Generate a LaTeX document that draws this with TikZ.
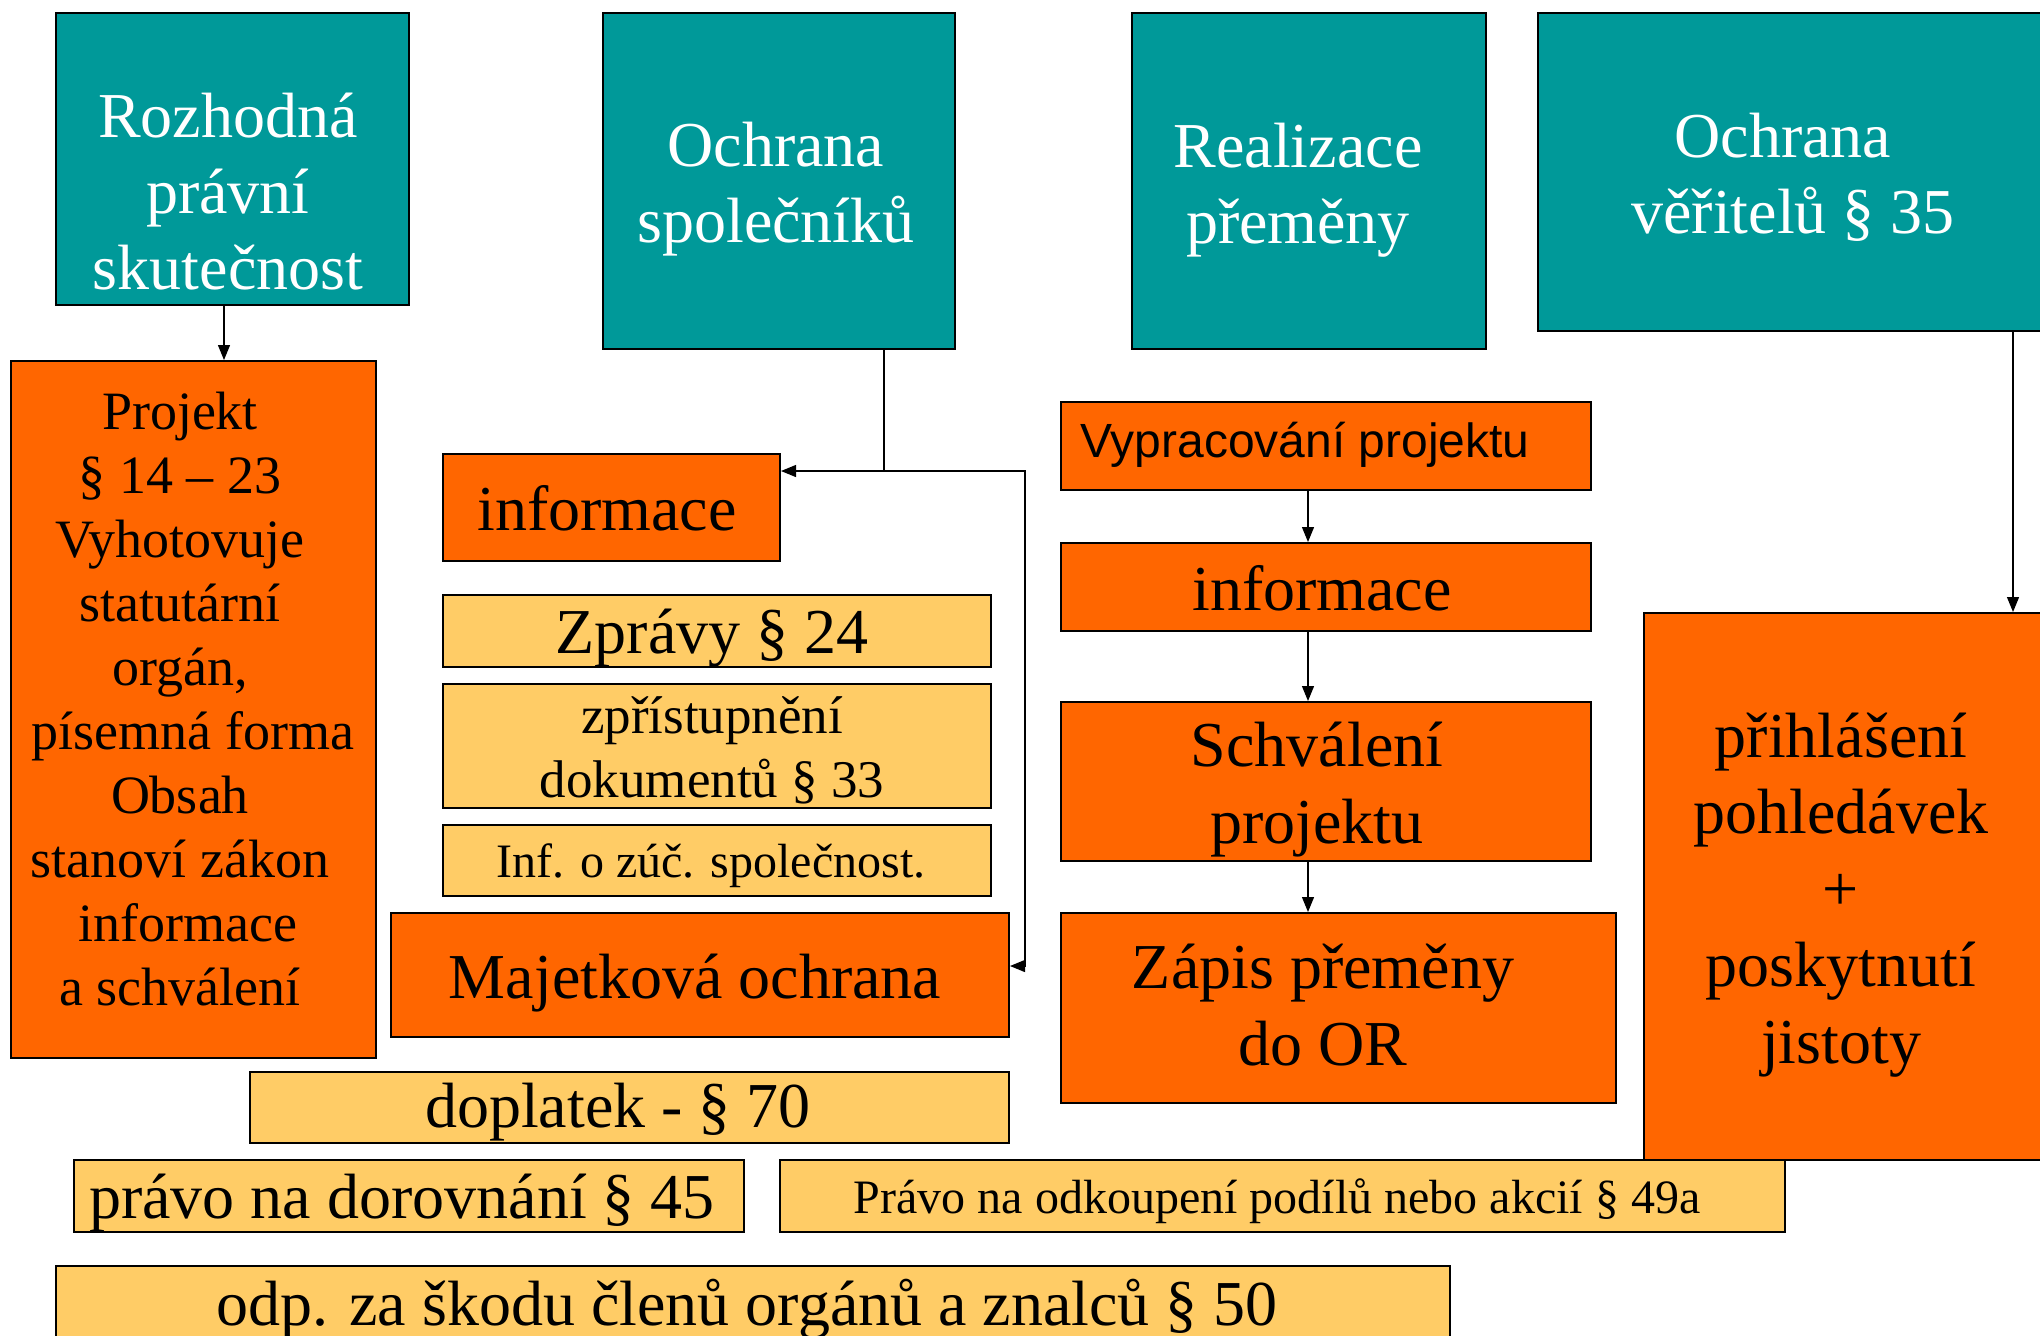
\documentclass[tikz,border=0pt]{standalone}
\usepackage{fontspec}
\setmainfont{Liberation Serif}
\newfontfamily\arialfont{Liberation Sans}
\usetikzlibrary{arrows.meta,calc}
\definecolor{tealc}{RGB}{0,153,153}
\definecolor{orangec}{RGB}{255,102,0}
\definecolor{lightc}{RGB}{255,204,102}
\tikzset{
  boxbase/.style={draw=black, line width=1pt, inner sep=0pt, anchor=north west, rectangle},
  tealb/.style={boxbase, fill=tealc},
  orb/.style={boxbase, fill=orangec},
  ltb/.style={boxbase, fill=lightc},
  txt/.style={inner sep=0pt, anchor=base, align=center, font={\fontsize{32}{38}\selectfont}},
  wtxt/.style={txt, text=white},
  conn/.style={line width=0.6pt, draw=black},
  arr/.style={conn, -{Triangle[length=7.5pt,width=6pt]}}
}
\begin{document}
\begin{tikzpicture}[x=0.5pt,y=-0.5pt]
\useasboundingbox (0,0) rectangle (2040,1335);
\clip (0,0) rectangle (2040,1335);
% teal header boxes
\node[tealb, minimum width=176.5pt, minimum height=146pt] (A) at (55,12) {};
\node[tealb, minimum width=176pt, minimum height=168pt] (B) at (602,12) {};
\node[tealb, minimum width=177pt, minimum height=168pt] (C) at (1131,12) {};
\node[tealb, minimum width=256.5pt, minimum height=159pt] (D) at (1537,12) {};
% orange boxes
\node[orb, minimum width=182.5pt, minimum height=348.5pt] (P) at (10,360) {};
\node[orb, minimum width=168.5pt, minimum height=53.5pt] (IL) at (442,453) {};
\node[orb, minimum width=309pt, minimum height=62pt] (M) at (390,912) {};
\node[orb, minimum width=265pt, minimum height=44pt] (V) at (1060,401) {};
\node[orb, minimum width=265pt, minimum height=44pt] (IR) at (1060,542) {};
\node[orb, minimum width=265pt, minimum height=79.5pt] (S) at (1060,701) {};
\node[orb, minimum width=277.5pt, minimum height=95pt] (ZP) at (1060,912) {};
\node[orb, minimum width=203.5pt, minimum height=273.5pt] (PR) at (1643,612) {};
% light boxes
\node[ltb, minimum width=274pt, minimum height=36pt] (Z) at (442,594) {};
\node[ltb, minimum width=274pt, minimum height=62pt] (ZD) at (442,683) {};
\node[ltb, minimum width=274pt, minimum height=35.5pt] (IZ) at (442,824) {};
\node[ltb, minimum width=379.5pt, minimum height=35.5pt] (DP) at (249,1071) {};
\node[ltb, minimum width=335pt, minimum height=36pt] (PD) at (73,1159) {};
\node[ltb, minimum width=502.5pt, minimum height=36pt] (PO) at (779,1159) {};
\node[ltb, minimum width=697pt, minimum height=40pt] (OS) at (55,1265) {};
% texts (anchor=base is the baseline of the last line)
\node[wtxt] (tA) at (228,289) {Rozhodná\\právní\\skutečnost};
\node[wtxt] (tB) at (776,242) {Ochrana\\společníků};
\node[wtxt] (tC) at (1298,243) {Realizace\\přeměny};
\node[wtxt] (tD) at (1783,233) {Ochrana\\\hspace*{10pt}věřitelů § 35};
\node[txt, font={\fontsize{27}{32}\selectfont}] (tP) at (180,1005) {Projekt\\§ 14 – 23\\Vyhotovuje\hspace*{6.5pt}\\statutární\hspace*{5pt}\\orgán,\hspace*{5pt}\\\hspace*{13pt}písemná forma\\Obsah\hspace*{6.5pt}\\stanoví zákon\\\hspace*{8pt}informace\\a schválení};
\node[txt] (tIL) at (607,530) {informace};
\node[txt] (tZ) at (712,653) {Zprávy § 24};
\node[txt, font={\fontsize{26.5}{32}\selectfont}] (tZD) at (712,797) {zpřístupnění\\dokumentů § 33};
\node[txt, font={\fontsize{24}{29}\selectfont}] (tIZ) at (711,877) {Inf. o zúč. společnost.};
\node[txt] (tM) at (695,998) {Majetková ochrana};
\node[txt] (tDP) at (618,1127) {doplatek - § 70};
\node[txt] (tPD) at (402,1218) {právo na dorovnání § 45};
\node[txt, font={\fontsize{24}{29}\selectfont}] (tPO) at (1277,1213) {Právo na odkoupení podílů nebo akcií § 49a};
\node[txt] (tOS) at (747,1325) {odp. za škodu členů orgánů a znalců § 50};
\node[txt, font={\arialfont\fontsize{24}{29}\selectfont}] (tV) at (1305,457) {Vypracování projektu};
\node[txt] (tIR) at (1322,610) {informace};
\node[txt, font={\fontsize{32}{38.5}\selectfont}] (tS) at (1317,843) {Schválení\\projektu};
\node[txt, font={\fontsize{32}{38.5}\selectfont}] (tZP) at (1323,1065) {Zápis přeměny\\do OR};
\node[txt, font={\fontsize{32}{38.25}\selectfont}] (tPR) at (1841,1063) {přihlášení\\pohledávek\\+\\poskytnutí\\jistoty};
% connectors
\coordinate (xa) at (224,0);
\draw[arr] (A.south -| xa) -- (P.north -| xa);
\coordinate (J) at (884,471);
\coordinate (K) at (1025,966);
\draw[conn] (B.south -| J) -- (J);
\draw[arr] (J) -- (J -| IL.east);
\draw[arr] (J) -| (K) -- (K -| M.east);
\coordinate (xv) at (1308,0);
\draw[arr] (V.south -| xv) -- (IR.north -| xv);
\draw[arr] (IR.south -| xv) -- (S.north -| xv);
\draw[arr] (S.south -| xv) -- (ZP.north -| xv);
\coordinate (xd) at (2013,0);
\draw[arr] (D.south -| xd) -- (PR.north -| xd);
\end{tikzpicture}
\end{document}
